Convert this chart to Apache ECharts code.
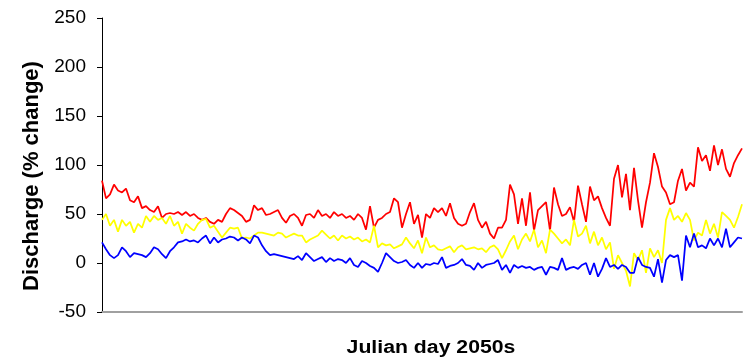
<!DOCTYPE html>
<html>
<head>
<meta charset="utf-8">
<script src="https://cdn.jsdelivr.net/npm/echarts@6/dist/echarts.min.js"></script>
<style>
html,body{margin:0;padding:0;background:#fff;}
#chart{width:743px;height:362px;}
</style>
</head>
<body>
<div id="chart"></div>
<script>
var yTicks = [-50, 0, 50, 100, 150, 200, 250];
var yAxisTitle = 'Discharge (% change)';
var xAxisTitle = 'Julian day 2050s';

var red = [
84, 66, 70, 80, 74, 72, 76, 64, 62, 68,
56, 58, 54, 52, 58, 46, 50, 51, 50, 52,
49, 52, 48, 50, 46, 44, 46, 42, 40, 44,
42, 50, 56, 54, 51, 48, 42, 44, 59, 54,
56, 49, 50, 52, 54, 46, 41, 48, 50, 46,
38, 49, 50, 46, 54, 48, 50, 46, 52, 48,
50, 46, 48, 44, 50, 46, 34, 58, 36, 44,
46, 50, 52, 66, 62, 36, 50, 62, 40, 49,
26, 50, 46, 56, 52, 56, 48, 61, 46, 40,
38, 40, 52, 61, 44, 36, 42, 30, 25, 36,
36, 44, 80, 70, 40, 66, 38, 72, 33, 54,
58, 62, 33, 77, 60, 48, 50, 57, 42, 79,
60, 42, 78, 64, 68, 56, 46, 38, 86, 100,
67, 91, 54, 97, 64, 36, 62, 82, 112, 98,
78, 72, 60, 62, 84, 96, 74, 82, 78, 118,
104, 110, 94, 120, 100, 116, 96, 88, 102, 110, 117
];

var yellow = [
44, 50, 38, 44, 32, 44, 38, 42, 31, 40,
36, 48, 42, 48, 44, 46, 40, 48, 38, 42,
30, 40, 36, 33, 40, 44, 45, 36, 38, 32,
26, 31, 36, 35, 36, 25, 26, 25, 28, 31,
31, 30, 29, 28, 31, 30, 26, 28, 30, 28,
28, 21, 24, 26, 28, 33, 29, 25, 28, 23,
28, 25, 27, 24, 26, 22, 24, 21, 38, 16,
20, 18, 19, 15, 17, 19, 26, 20, 15, 23,
10, 26, 16, 18, 14, 13, 15, 17, 11, 16,
18, 14, 15, 16, 14, 15, 11, 16, 18, 14,
5, 13, 22, 28, 14, 24, 30, 22, 34, 16,
23, 10, 34, 30, 25, 20, 24, 18, 44, 27,
30, 38, 20, 32, 18, 26, 14, 21, -6, 8,
0, -8, -24, 10, 3, 13, -10, 15, 6, 13,
0, 44, 56, 44, 48, 42, 51, 44, 23, 31,
28, 44, 30, 40, 26, 52, 48, 44, 36, 47, 60
];

var blue = [
21, 14, 8, 5, 8, 16, 12, 6, 10, 9,
8, 6, 10, 16, 14, 9, 5, 12, 16, 21,
22, 24, 22, 23, 21, 25, 28, 20, 26, 21,
24, 25, 27, 26, 23, 26, 24, 20, 28, 26,
18, 12, 8, 9, 8, 7, 6, 5, 4, 7,
3, 10, 6, 2, 4, 6, 1, 5, 2, 4,
3, 0, 5, -2, -4, 2, 0, -3, -5, -9,
0, 10, 6, 2, 0, 1, 3, -2, -5, 0,
-5, -1, -2, 0, -1, 6, -5, -3, -2, 0,
4, -2, -3, -7, 0, -5, -2, -1, 0, 3,
-7, -2, -10, -2, -5, -3, -5, -4, -7, -5,
-4, -12, -4, -5, -7, 5, -7, -5, -4, -6,
-2, 0, -12, 0, -14, -6, 5, -4, -2, -6,
-2, -4, -10, -10, 6, -2, -4, -5, -14, 4,
-20, 3, 8, 6, 8, -18, 28, 16, 30, 16,
18, 15, 25, 18, 25, 16, 35, 16, 21, 26, 25
];

var days = red.map(function (_, i) { return String(i + 1); });

var chart = echarts.init(document.getElementById('chart'), null, {renderer: 'canvas'});
var font = '"Liberation Sans", Arial, sans-serif';

function lineSeries(name, data, color) {
  return {
    name: name, type: 'line', data: data, symbol: 'none', smooth: false,
    lineStyle: {color: color, width: 1.75}, itemStyle: {color: color}
  };
}

chart.setOption({
  animation: false,
  backgroundColor: '#ffffff',
  grid: {left: 102, right: 1, top: 18, bottom: 50, containLabel: false},
  xAxis: {
    type: 'category', data: days, boundaryGap: false,
    axisLine: {show: true, onZero: false, lineStyle: {color: '#a0a0a0', width: 2}},
    axisTick: {show: false}, axisLabel: {show: false}, splitLine: {show: false}
  },
  yAxis: {
    type: 'value', min: yTicks[0], max: yTicks[yTicks.length - 1], interval: 50,
    axisLine: {show: true, lineStyle: {color: '#000', width: 1}},
    axisTick: {show: true, inside: false, length: 5, lineStyle: {color: '#000'}},
    axisLabel: {color: '#000', fontSize: 19, fontFamily: font, margin: 16},
    splitLine: {show: false}
  },
  graphic: [
    {type: 'text', x: 32, y: 176, rotation: Math.PI / 2,
     style: {text: yAxisTitle, font: 'bold 22px ' + font, fill: '#000', align: 'center', verticalAlign: 'middle'}},
    {type: 'text', x: 431, y: 348, scaleX: 1.18,
     style: {text: xAxisTitle, font: 'bold 18px ' + font, fill: '#000', align: 'center', verticalAlign: 'middle'}}
  ],
  series: [
    lineSeries('Red', red, '#ff0000'),
    lineSeries('Yellow', yellow, '#ffff00'),
    lineSeries('Blue', blue, '#0000ff')
  ]
});
</script>
</body>
</html>
